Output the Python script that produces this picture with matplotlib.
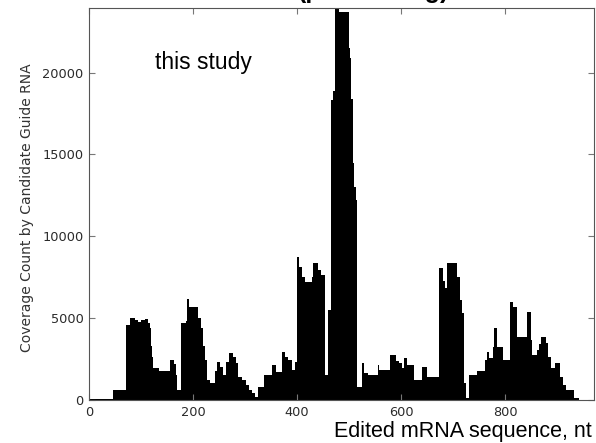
import numpy as np
import matplotlib
matplotlib.use('Agg')
import matplotlib.pyplot as plt

# coverage profile: start of each step (nt) and count held until the next step
seg_start = [0, 46, 72, 78, 88, 95, 100, 108, 114, 117, 119, 121, 123, 124, 135, 145,
             156, 163, 167, 170, 177, 186, 188, 192, 210, 215, 219, 223, 227, 232, 243,
             246, 252, 258, 264, 270, 276, 282, 287, 294, 302, 308, 314, 319, 324, 337,
             352, 360, 372, 377, 383, 390, 396, 400, 404, 410, 415, 429, 431, 440, 447,
             453, 460, 466, 470, 473, 481, 500, 502, 504, 507, 510, 513, 515, 516, 525,
             529, 537, 555, 558, 578, 590, 596, 601, 606, 611, 625, 641, 650, 673, 680,
             684, 688, 708, 713, 718, 722, 725, 730, 746, 762, 765, 770, 776, 779, 784,
             796, 809, 816, 823, 843, 849, 852, 862, 866, 870, 878, 882, 888, 896, 905,
             911, 917, 932, 942, 971]
seg_count = [50, 600, 4600, 5000, 4900, 4750, 4900, 4950, 4700, 4400, 3300, 2600, 0, 1950, 1800, 1750,
             2450, 2200, 1500, 600, 4700, 4800, 6200, 5700, 5000, 4400, 3300, 2440, 1220, 1040, 1800,
             2300, 2000, 1500, 2300, 2870, 2600, 2260, 1400, 1220, 900, 600, 400, 180, 800, 1500,
             2140, 1700, 2930, 2600, 2440, 1830, 2320, 8740, 8130, 7500, 7200, 7500, 8370, 7940, 7640,
             1500, 5500, 18300, 18900, 23950, 23700, 21500, 20900, 18400, 14500, 13000, 12200, 5500, 800, 2260,
             1650, 1530, 2140, 1830, 2750, 2400, 2260, 1950, 2560, 2140, 1220, 2020, 1400, 8060, 7300,
             6840, 8370, 7500, 6100, 5300, 1040, 120, 1530, 1770, 2440, 2930, 2560, 3240, 4400, 3240,
             2440, 6000, 5700, 3850, 5380, 3670, 2750, 3050, 3400, 3850, 3480, 2630, 1950, 2260, 1400,
             900, 610, 120, 0, 0]

x_ticks = [0, 200, 400, 600, 800]
y_ticks = [0, 5000, 10000, 15000, 20000]

fig = plt.figure(figsize=(5.96, 4.43), dpi=100)
ax = fig.add_axes([89/596, 43/443, 505/596, 392/443])

ax.fill_between(seg_start, seg_count, step='post', color='black', linewidth=0)
ax.set_xlim(0, 971)
ax.set_ylim(0, 23950)
ax.set_xticks(x_ticks)
ax.set_yticks(y_ticks)
ax.tick_params(direction='in', top=True, right=True, length=4, width=0.8,
               labelsize=9.3, labelcolor='#2a2a2a', color='#777777', pad=4)
for s in ax.spines.values():
    s.set_color('#555555')

fig.text(27/596, 1 - 208/443, 'Coverage Count by Candidate Guide RNA', rotation=90,
         ha='center', va='center', fontsize=10, color='#333333')
fig.text(592/596, 1 - 437/443, 'Edited mRNA sequence, nt', ha='right', va='baseline',
         fontsize=15.5, family='Liberation Sans')
ax.text(127, 20200, 'this study', ha='left', va='baseline', fontsize=16.5,
        family='Liberation Sans')
# title is cut off by the top edge in the original too; only its descenders show
fig.text(298/596, 1 + 2/443, '(pan-editing)', ha='left', va='baseline', fontsize=18,
         fontweight='bold', family='Liberation Sans')

fig.savefig('out.png', dpi=100)
